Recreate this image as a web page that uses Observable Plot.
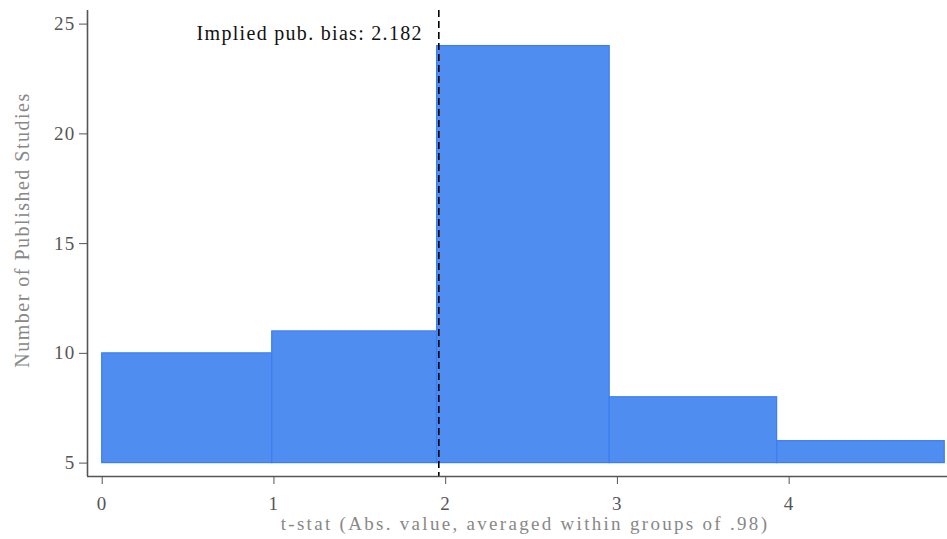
<!DOCTYPE html>
<html>
<head>
<meta charset="utf-8">
<script src="https://cdn.jsdelivr.net/npm/d3@7"></script>
<script src="https://cdn.jsdelivr.net/npm/@observablehq/plot@0.6"></script>
<style>
  html, body { margin: 0; padding: 0; background: #fff; }
  #chart svg { display: block; }
</style>
</head>
<body>
<div id="chart"></div>
<script>
// Histogram bins (t-stat, grouped by .98) and counts of published studies
const binStart = [0, 0.99, 1.95, 2.955, 3.93];
const binEnd   = [0.99, 1.95, 2.955, 3.93, 4.906];
const counts   = [10, 11, 24, 8, 6];
const baseline = 5;
const impliedLine = 1.96;
const annotationText = "Implied pub. bias: 2.182";
const xTicks = [0, 1, 2, 3, 4];
const yTicks = [5, 10, 15, 20, 25];
const xTitle = "t-stat (Abs. value, averaged within groups of .98)";
const yTitle = "Number of Published Studies";

const bars = binStart.map((s, i) => ({x1: s, x2: binEnd[i], y: counts[i]}));

const xDomain = [-0.0856, 4.922];
const yDomain = [4.39, 25.62];
const font = "'Liberation Serif', 'DejaVu Serif', serif";

const chart = Plot.plot({
  width: 947,
  height: 539,
  marginLeft: 87,
  marginRight: 0,
  marginTop: 10,
  marginBottom: 63,
  style: {fontFamily: font, fontSize: "19px", color: "#555", background: "#fff", letterSpacing: "1.3px"},
  x: {domain: xDomain, ticks: xTicks, tickSize: 8, tickPadding: 11.5, tickFormat: d => String(d), label: null},
  y: {domain: yDomain, ticks: yTicks, tickSize: 8, tickPadding: 4, label: null},
  marks: [
    Plot.rectY(bars, {x1: "x1", x2: "x2", y1: baseline, y2: "y", fill: "#508df0", stroke: "#3a7ef2", strokeWidth: 1.2}),
    Plot.ruleX([impliedLine], {stroke: "#000", strokeWidth: 1.6, strokeDasharray: "7,4"}),
    Plot.text([annotationText], {x: impliedLine, y: 24.58, dx: -16, text: d => d, textAnchor: "end",
      fill: "#111", fontSize: 20, fontFamily: font}),
    Plot.ruleX([xDomain[0]], {stroke: "#555", strokeWidth: 1.6}),
    Plot.ruleY([yDomain[0]], {stroke: "#555", strokeWidth: 1.6})
  ]
});

const svg = d3.select(chart);
svg.append("text")
  .attr("x", 525).attr("y", 530)
  .attr("text-anchor", "middle")
  .attr("fill", "#888")
  .style("font-family", font).style("font-size", "19px").style("letter-spacing", "2.3px")
  .text(xTitle);
svg.append("text")
  .attr("transform", "translate(29,230) rotate(-90)")
  .attr("text-anchor", "middle")
  .attr("fill", "#888")
  .style("font-family", font).style("font-size", "20px").style("letter-spacing", "1.5px")
  .text(yTitle);

document.getElementById("chart").appendChild(chart);
</script>
</body>
</html>
